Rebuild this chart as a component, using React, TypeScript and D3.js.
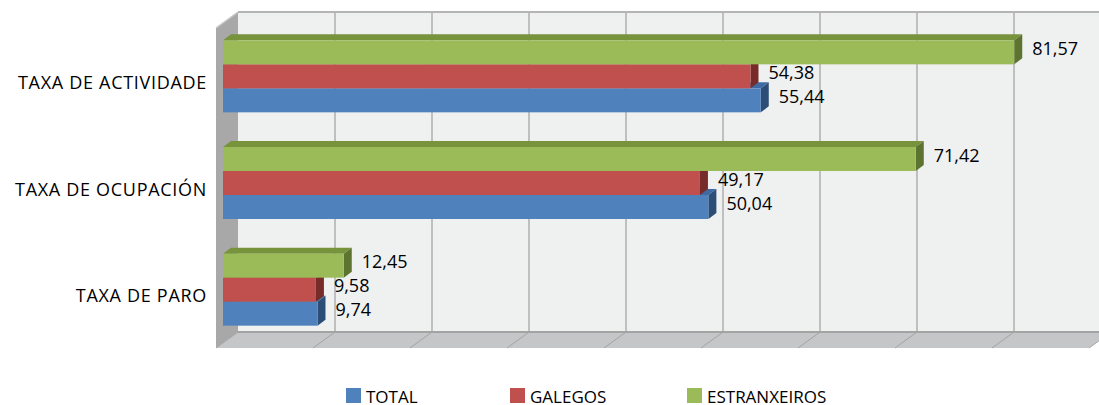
import React from "react";
import * as d3 from "d3";

const categories = ["TAXA DE ACTIVIDADE", "TAXA DE OCUPACIÓN", "TAXA DE PARO"];
const seriesNames = ["ESTRANXEIROS", "GALEGOS", "TOTAL"];
const estranxeiros = [81.57, 71.42, 12.45];
const galegos = [54.38, 49.17, 9.58];
const total = [55.44, 50.04, 9.74];
const xTicks = [0, 10, 20, 30, 40, 50, 60, 70, 80, 90];
const legendOrder = ["TOTAL", "GALEGOS", "ESTRANXEIROS"];

const W = 1099;
const H = 405;
const FONT = "'Open Sans', 'Noto Sans', sans-serif";

const colors: Record<string, { front: string; top: string; side: string }> = {
  TOTAL: { front: "#4F81BD", top: "#3E6BA3", side: "#2C4D75" },
  GALEGOS: { front: "#C0504D", top: "#9A3B38", side: "#772C2A" },
  ESTRANXEIROS: { front: "#9BBB59", top: "#77933C", side: "#5D7431" },
};

const values: Record<string, number[]> = {
  ESTRANXEIROS: estranxeiros,
  GALEGOS: galegos,
  TOTAL: total,
};

// 3D geometry
const backLeft = 238;
const backTop = 12;
const backBottom = 332;
const wallDx = -22;
const wallDy = 16;
const barOffX = -15;
const barOffY = 11;
const barDepthX = 8;
const barDepthY = -6;

export default function App() {
  const x = d3.scaleLinear().domain([0, 90]).range([backLeft, backLeft + 873]);
  const yCat = d3.scaleBand<string>().domain(categories).range([backTop, backBottom]).padding(0);
  const groupH = 72;
  const ySer = d3.scaleBand<string>().domain(seriesNames).range([0, groupH]).padding(0);
  const groupPad = (yCat.bandwidth() - groupH) / 2;

  const xRight = x(90);

  const bars: React.ReactNode[] = [];
  const labels: React.ReactNode[] = [];
  categories.forEach((cat, ci) => {
    [...seriesNames].reverse().forEach((s) => {
      const v = values[s][ci];
      const y0 = (yCat(cat) as number) + groupPad + (ySer(s) as number) + barOffY;
      const h = ySer.bandwidth();
      const x0 = x(0) + barOffX;
      const x1 = x(v) + barOffX;
      const c = colors[s];
      bars.push(
        <g key={`${cat}-${s}`}>
          <polygon
            points={`${x0},${y0} ${x1},${y0} ${x1 + barDepthX},${y0 + barDepthY} ${x0 + barDepthX},${y0 + barDepthY}`}
            fill={c.top}
          />
          <polygon
            points={`${x1},${y0} ${x1 + barDepthX},${y0 + barDepthY} ${x1 + barDepthX},${y0 + h + barDepthY} ${x1},${y0 + h}`}
            fill={c.side}
          />
          <rect x={x0} y={y0} width={x1 - x0} height={h} fill={c.front} />
        </g>
      );
      labels.push(
        <text
          key={`l-${cat}-${s}`}
          x={x1 + barDepthX + 10}
          y={y0 + h / 2 + 2.5}
          fontSize={18}
          fontFamily={FONT}
          fill="#000"
        >
          {v.toFixed(2).replace(".", ",")}
        </text>
      );
    });
  });

  const legendX = [346, 510, 687];

  return (
    <svg
      width={W}
      height={H}
      style={{ position: "absolute", left: 0, top: 0, background: "#fff" }}
    >
      <rect x={backLeft} y={backTop} width={xRight - backLeft} height={backBottom - backTop} fill="#EFF0F0" />
      <polygon
        points={`${backLeft + wallDx},${backTop + wallDy} ${backLeft},${backTop} ${backLeft},${backBottom} ${backLeft + wallDx},${backBottom + wallDy}`}
        fill="#A8A8A8"
      />
      <line x1={backLeft + wallDx} y1={backTop + wallDy} x2={backLeft} y2={backTop} stroke="#C8C8C8" strokeWidth={1.5} />
      <polygon
        points={`${backLeft},${backBottom} ${xRight},${backBottom} ${xRight + wallDx},${backBottom + wallDy} ${backLeft + wallDx},${backBottom + wallDy}`}
        fill="#C5C6C8"
      />
      {xTicks.map((t) => (
        <g key={`g${t}`}>
          {t > 0 && (
            <line x1={x(t)} x2={x(t)} y1={backTop} y2={backBottom} stroke="#BFBFBF" strokeWidth={2} />
          )}
          <line x1={x(t)} x2={x(t) + wallDx} y1={backBottom} y2={backBottom + wallDy} stroke="#A3A3A3" strokeWidth={1} />
        </g>
      ))}
      <line x1={backLeft} x2={xRight} y1={backTop} y2={backTop} stroke="#B4B4B4" strokeWidth={2} />
      <line x1={backLeft} x2={xRight} y1={backBottom} y2={backBottom} stroke="#A3A3A3" strokeWidth={2} />

      {bars}
      {labels}

      {categories.map((cat) => (
        <text
          key={cat}
          x={207}
          y={(yCat(cat) as number) + yCat.bandwidth() / 2 + barOffY + 12.5}
          textAnchor="end"
          fontSize={18}
          letterSpacing={0.7}
          fontFamily={FONT}
          fill="#000"
        >
          {cat}
        </text>
      ))}

      {legendOrder.map((s, i) => (
        <g key={`lg${s}`}>
          <rect x={legendX[i]} y={388} width={15} height={15} fill={colors[s].front} />
          <text x={legendX[i] + 20} y={403} fontSize={17} fontFamily={FONT} fill="#000">
            {s}
          </text>
        </g>
      ))}
    </svg>
  );
}
